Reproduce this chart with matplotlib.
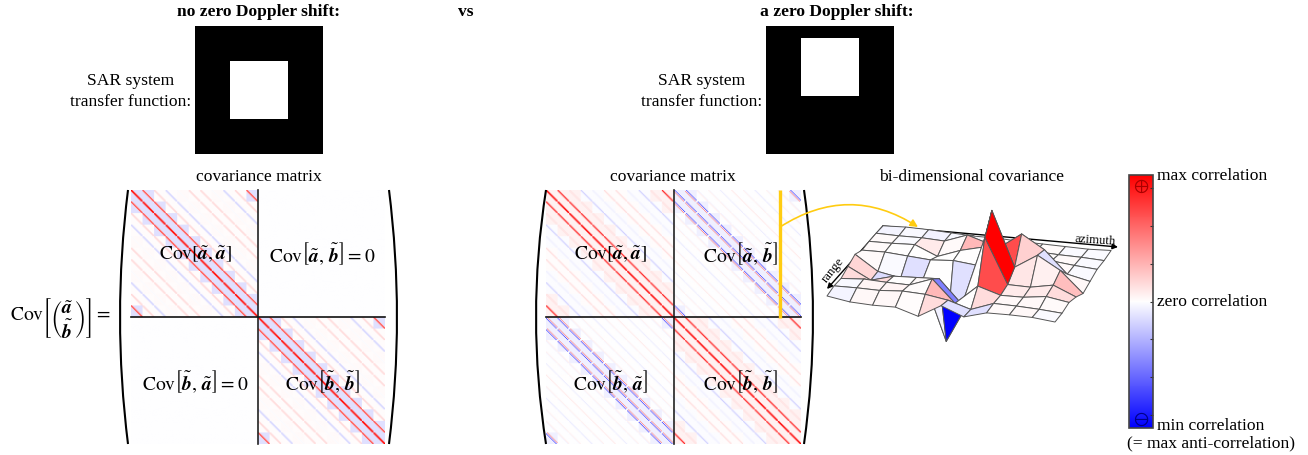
import numpy as np
import matplotlib
matplotlib.use("Agg")
import matplotlib.pyplot as plt
from matplotlib.cm import ScalarMappable
from matplotlib.colors import Normalize
from matplotlib.patches import FancyArrowPatch, PathPatch
from matplotlib.path import Path
from mpl_toolkits.mplot3d import proj3d

plt.rcParams['font.family'] = ['Liberation Serif', 'DejaVu Serif']
plt.rcParams['mathtext.fontset'] = 'stix'

W, H = 1308, 456
fs = 12.6

# covariance matrix: one value per block offset (11 blocks of 11 samples)
left_main = [1.0, .85, .15, -.17, -.02, .14, .14, -.02, -.17, .15, .85]
left_side = [.75, .4, .09, -.11, -.01, .09, .09, -.01, -.11, .09, .4]
left_bg = [-.12, -.12, .01, .01, .02, .01, .01, .02, .01, .01, -.12]
left_zero = -.006

right_main = [1.0, .85, .1, -.18, -.05, .13, .13, -.05, -.18, .1, .85]
right_side = [.5, .3, .05, -.05, -.02, .05, .05, -.02, -.05, .05, .3]
right_bg = [.05, .05, .05, -.015, -.015, .01, .01, -.015, -.015, .05, .05]

cross_main = [.0, .0, .06, .06, -.07, .09, .06, -.08, .06, .06, .0]
cross_up = [-.6, -.6, -.04, -.02, -.03, .02, -.02, -.03, -.02, -.04, -.6]
cross_down = [.5, .5, .03, .02, .0, .02, .02, -.02, .02, .03, .5]
cross_bg = [-.06, -.06, -.005, -.005, .0, -.005, -.005, .005, -.005, -.005, -.06]

# bi-dimensional covariance, rows run from front (near) to back
surf_z = [
    [.00, -.05, -.06, -.05, -.15, .05, -.08, .02, .03, .03, .00],
    [.02, .03, .03, .06, .05, .00, -.10, .03, .03, .02, .00],
    [.00, .03, .02, .02, .15, -.18, .12, .02, .03, .08, .03],
    [.05, -.12, -.02, .00, .02, -.33, .72, .05, .05, .12, -.02],
    [.10, -.12, -.18, -.14, -1.06, -.42, 1.00, .18, .40, .21, -.10],
    [.03, .04, .02, .00, .03, .00, .30, .55, .35, .02, -.05],
    [.03, .04, .06, -.08, .05, .14, .10, .10, .05, .02, .00],
    [.02, .02, .03, .02, .15, .05, .02, .02, .01, .01, .00],
    [.00, .02, .02, .01, .00, .01, .00, .00, .00, .00, .02],
]
surf_c = [
    [-.04, .03, .03, .01, .14, -.12, -.12, .02, .03, -.02],
    [-.03, .04, .04, .01, .28, .00, .14, .03, .03, .02],
    [.14, .14, .00, .02, -.5, .00, .7, .08, .08, .14],
    [.16, -.14, -.16, -.06, -1.0, .00, 1.0, .10, .06, .25],
    [.02, -.02, -.12, .00, -.12, .00, .7, .18, -.12, .03],
    [.02, .00, .00, .00, .00, .02, .00, -.02, .02, -.02],
    [.02, -.02, .08, .02, .28, .00, .00, .02, .02, -.02],
    [-.04, -.03, -.05, -.03, -.02, .02, .02, .02, -.02, -.02],
]

bar_ticks = [-.9, -.6, -.3, 0, .3, .6, .9]

fig = plt.figure(figsize=(W / 100, H / 100), dpi=100)
bg = fig.add_axes([0, 0, 1, 1])
bg.set_xlim(0, W)
bg.set_ylim(H, 0)
bg.axis('off')
bg.set_zorder(3)


def px_axes(x0, y0, x1, y1, **kw):
    return fig.add_axes([x0 / W, 1 - y1 / H, (x1 - x0) / W, (y1 - y0) / H], **kw)


def build_block(main, up, down, back):
    n = 11
    out = np.zeros((n * n, n * n))
    for r in range(n * n):
        for c in range(n * n):
            db = (c // n - r // n) % n
            di = c % n - r % n
            v = back[db]
            if di == 0 and main[db] != 0:
                v = main[db]
            elif di == 1:
                v += up[db]
            elif di == -1:
                v += down[db]
            out[r, c] = v
    return out


def transfer(shift):
    tf = np.zeros((22, 22))
    tf[shift:shift + 10, 6:16] = 1
    return tf


def paren(x_end, x_mid, y0=191, y1=445):
    verts = [(x_end, y0), (2 * x_mid - x_end, (y0 + y1) / 2), (x_end, y1)]
    bg.add_patch(PathPatch(Path(verts, [Path.MOVETO, Path.CURVE3, Path.CURVE3]),
                           fc='none', ec='black', lw=1.5))


# transfer functions
for x0, shift in [(195, 6), (766, 2)]:
    a = px_axes(x0, 26.6, x0 + 128, 154.6)
    a.imshow(transfer(shift), cmap='gray', vmin=0, vmax=1, aspect='auto', interpolation='nearest')
    a.axis('off')

# covariance matrices
aa = build_block(left_main, left_side, left_side, left_bg)
zero = np.full_like(aa, left_zero)
left = np.block([[aa, zero], [zero, aa]])
rr = build_block(right_main, right_side, right_side, right_bg)
ab = build_block(cross_main, cross_up, cross_down, cross_bg)
right = np.block([[rr, ab], [ab.T, rr]])
for (x0, x1), m in [((131, 385), left), ((546, 801), right)]:
    a = px_axes(x0, 191, x1, 445)
    a.imshow(m, cmap='bwr', vmin=-1, vmax=1, aspect='auto', interpolation='bilinear')
    a.axis('off')
    xc = (x0 + x1) / 2
    bg.plot([xc, xc], [191, 445], color='#222222', lw=1.2)
    bg.plot([x0, x1], [318, 318], color='#111111', lw=1.2)

paren(128, 120)
paren(389, 397)
paren(546, 536)
paren(804, 813)

bg.plot([779.5, 779.5], [191, 319], color='#ffcc11', lw=2.4, solid_capstyle='butt')
bg.add_patch(FancyArrowPatch((780, 228), (918, 228), connectionstyle='arc3,rad=-.32',
                             arrowstyle='-|>', mutation_scale=11, color='#ffcc11', lw=1.2,
                             shrinkA=0, shrinkB=0))

# axis arrows of the surface
for p0, p1 in [((883, 227), (827, 290)), ((883, 227), (1118, 248))]:
    bg.add_patch(FancyArrowPatch(p0, p1, arrowstyle='-|>', mutation_scale=8, color='black', lw=1,
                                 shrinkA=0, shrinkB=0))
bg.text(833, 270, 'range', rotation=51, fontsize=9.2, ha='center', va='center', rotation_mode='anchor')
bg.text(1095, 240, 'azimuth', rotation=-4, fontsize=9.2, ha='center', va='center', rotation_mode='anchor')

# text
bg.text(259, 11.5, 'no zero Doppler shift:', fontweight='bold', fontsize=fs, ha='center', va='center')
bg.text(466, 11.5, 'vs', fontweight='bold', fontsize=fs, ha='center', va='center')
bg.text(837, 11.5, 'a zero Doppler shift:', fontweight='bold', fontsize=fs, ha='center', va='center')
for xc in [131, 702]:
    bg.text(xc, 81, 'SAR system', fontsize=fs, ha='center', va='center')
    bg.text(xc, 102, 'transfer function:', fontsize=fs, ha='center', va='center')
for xc, s in [(259, 'covariance matrix'), (673, 'covariance matrix'), (972, 'bi-dimensional covariance')]:
    bg.text(xc, 177, s, fontsize=fs, ha='center', va='center')

A = r'\tilde{\boldsymbol{a}}'
B = r'\tilde{\boldsymbol{b}}'
COV = r'\mathrm{Cov}'
mfs = 14
labels = [
    (195, 254, rf'${COV}\left[{A},{A}\right]$'),
    (322, 254, rf'${COV}\left[{A},\,{B}\right]=0$'),
    (195, 382, rf'${COV}\left[{B},\,{A}\right]=0$'),
    (322, 382, rf'${COV}\left[{B},\,{B}\right]$'),
    (610, 254, rf'${COV}\left[{A},{A}\right]$'),
    (740, 254, rf'${COV}\left[{A},\,{B}\right]$'),
    (610, 382, rf'${COV}\left[{B},\,{A}\right]$'),
    (740, 382, rf'${COV}\left[{B},\,{B}\right]$'),
    (60, 318, rf'${COV}\left[\genfrac{{(}}{{)}}{{0}}{{0}}{{{A}}}{{{B}}}\right]=$'),
]
for x, y, s in labels:
    bg.text(x, y, s, fontsize=mfs, ha='center', va='center')

# colour bar
cax = px_axes(1129, 176, 1153, 429)
cb = fig.colorbar(ScalarMappable(Normalize(-1, 1), 'bwr'), cax=cax, ticks=bar_ticks)
cb.ax.tick_params(direction='in', length=2.5, width=.8, color='#333333', labelright=False)
cb.outline.set_edgecolor('#444444')
cb.outline.set_linewidth(1.2)
cax.set_zorder(2)
bg.text(1141, 186, r'$\oplus$', fontsize=13, color='#aa0000', ha='center', va='center')
bg.text(1141, 419, r'$\ominus$', fontsize=13, color='#000088', ha='center', va='center')
bg.text(1157, 176, 'max correlation', fontsize=fs, ha='left', va='center')
bg.text(1157, 302, 'zero correlation', fontsize=fs, ha='left', va='center')
bg.text(1157, 426, 'min correlation', fontsize=fs, ha='left', va='center')
bg.text(1127, 443, '(= max anti-correlation)', fontsize=fs, ha='left', va='center')

# surface, the 3d axes stays square so it has to be large
ax = px_axes(810, 90, 1130, 410, projection='3d')
ax.patch.set_alpha(0)
ax.set_zorder(4)
ax.set_proj_type('ortho')
ax.view_init(elev=22.2, azim=-73.2)
Z = np.array(surf_z)
X, Y = np.meshgrid(np.arange(Z.shape[1]), np.arange(Z.shape[0]))
cols = plt.get_cmap('bwr')(Normalize(-1, 1)(np.array(surf_c)))
ax.plot_surface(X, Y, Z, rstride=1, cstride=1, facecolors=cols, shade=False,
                edgecolor='#555555', linewidth=.7)
ax.set_xlim(0, 10)
ax.set_ylim(0, 8)
ax.set_zlim(-1.1, 1.1)
ax.axis('off')


def corner_px(x, y):
    sx, sy, _ = proj3d.proj_transform(x, y, 0, ax.get_proj())
    return ax.transData.transform((sx, sy))


# scale and shift the box until the plane sits on the drawn arrows
aspect = (238, 194, 157)
ax.set_box_aspect(aspect, zoom=1)
fig.canvas.draw()
p0, p1 = corner_px(0, 0), corner_px(10, 0)
ax.set_box_aspect(aspect, zoom=228 / (p1[0] - p0[0]))
fig.canvas.draw()
p0 = corner_px(0, 0)
dx, dy = 827 - p0[0], (H - 297) - p0[1]
pos = ax.get_position()
ax.set_position([pos.x0 + dx / W, pos.y0 + dy / H, pos.width, pos.height])

fig.savefig('out.png', dpi=100)
